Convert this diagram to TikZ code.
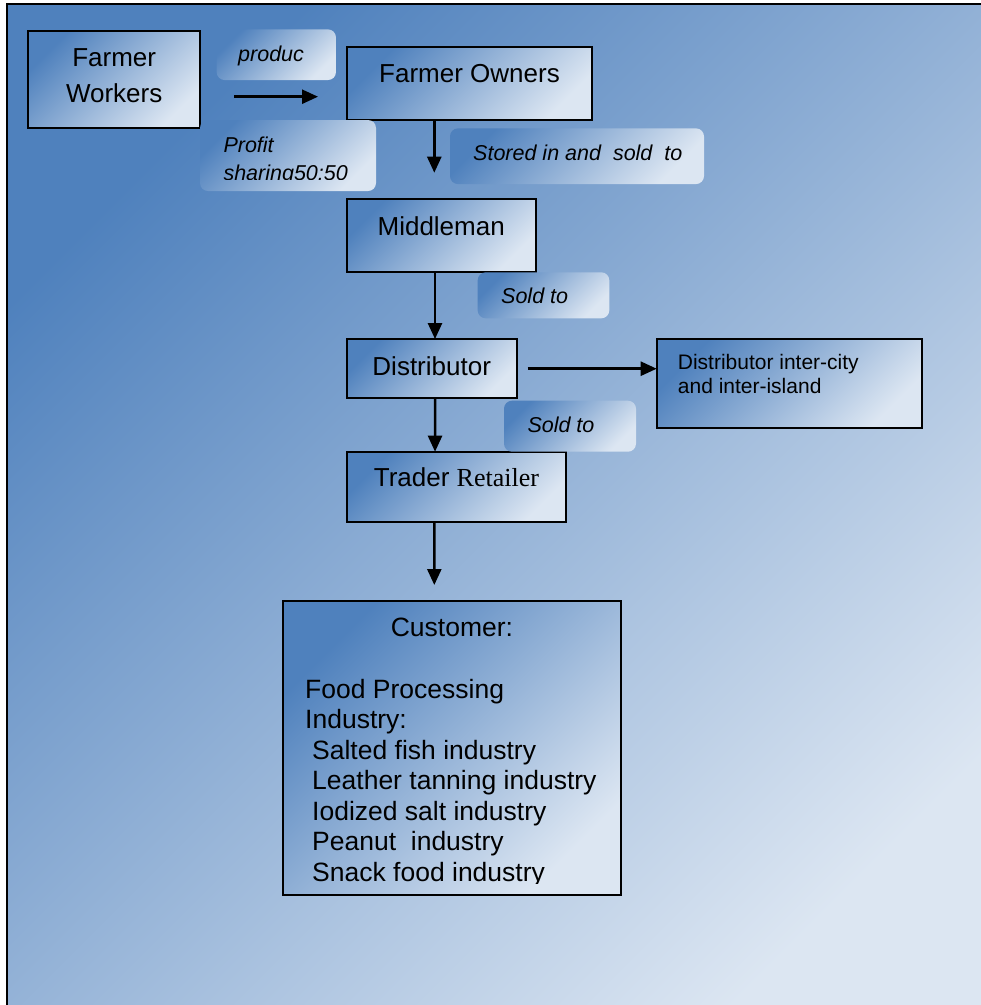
\documentclass[tikz,border=0pt]{standalone}
\usepackage{fontspec}
\setmainfont{Liberation Sans}
\newfontfamily\timesf{Liberation Serif}
\usetikzlibrary{arrows.meta}
\definecolor{dkb}{RGB}{79,129,189}
\definecolor{ltb}{RGB}{220,230,242}
\begin{document}
\begin{tikzpicture}[x=1pt,y=-1pt,
  grad/.style={top color=dkb, bottom color=ltb, shading angle=45},
  box/.style={grad, draw=black, line width=2pt, inner sep=0pt, outer sep=0pt, rectangle},
  callout/.style={grad, rounded corners=8pt, inner sep=0pt, outer sep=0pt, rectangle},
  big/.style={font=\fontsize{26}{30}\selectfont, anchor=base, inner sep=0pt},
  small/.style={font=\fontsize{21.5}{25}\selectfont\itshape, anchor=base west, inner sep=0pt},
  plain/.style={font=\fontsize{21}{25}\selectfont, anchor=base west, inner sep=0pt},
  cust/.style={font=\fontsize{26.5}{30.5}\selectfont, anchor=base west, inner sep=0pt},
  arr/.style={line width=2.5pt, -{Triangle[length=16pt,width=14pt]}}
]
\useasboundingbox (0,0) rectangle (981,1005);
% background frame
\shade[grad] (7,4) rectangle (1010,1030);
\draw[line width=2pt] (7,4) rectangle (1010,1030);

% boxes
\node[box, minimum width=171.7pt, minimum height=97pt] (fw) at (114.2,79.5) {};
\node[box, minimum width=245.6pt, minimum height=72.7pt] (fo) at (469.5,83.7) {};
\node[box, minimum width=189pt, minimum height=72.7pt] (mm) at (441.2,235.7) {};
\node[box, minimum width=170pt, minimum height=59.3pt] (di) at (431.7,368.7) {};
\node[box, minimum width=219.3pt, minimum height=70.6pt] (tr) at (456.4,487) {};
\node[box, minimum width=265.6pt, minimum height=88.7pt] (ic) at (789.5,383.3) {};
\node[box, minimum width=337.7pt, minimum height=294pt] (cu) at (451.9,748) {};

% callouts
\node[callout, minimum width=119.3pt, minimum height=50.7pt] (c1) at (276.3,54.7) {};
\node[callout, minimum width=176pt, minimum height=71pt] (c2) at (288,155.5) {};
\node[callout, minimum width=254pt, minimum height=55.7pt] (c3) at (577,156.2) {};
\node[callout, minimum width=131.6pt, minimum height=46pt] (c4) at (543.5,295.3) {};
\node[callout, minimum width=132pt, minimum height=51pt] (c5) at (570,426.2) {};

% box texts
\node[big] (t1) at (114.2,66.7) {Farmer};
\node[big] (t2) at (114.2,102.3) {Workers};
\node[big] (t3) at (469.5,82.7) {Farmer Owners};
\node[big] (t4) at (441.2,235) {Middleman};
\node[big] (t5) at (431.7,375) {Distributor};
\node[big] (t6) at (456.4,486.7) {Trader {\timesf Retailer}};
\node[plain] (t7) at (677.7,369.3) {Distributor inter-city};
\node[plain] (t8) at (677.7,393.3) {and inter-island};

% callout texts
\node[small] (s1) at (238,61) {produc};
\node[small] (s2) at (223.3,152.7) {Profit};
\begin{scope}
\clip (200,120) rectangle (376,179.5);
\node[small] (s3) at (223.3,180.5) {sharing50:50};
\end{scope}
\node[small] (s4) at (473,160) {Stored in and\ \ sold\ \ to};
\node[small] (s5) at (501,303.3) {Sold to};
\node[small] (s6) at (527.3,432.3) {Sold to};

% customer texts
\node[big, font=\fontsize{26.5}{30.5}\selectfont] (u0) at (451.9,636.7) {Customer:};
\node[cust] (u1) at (305,698) {Food Processing};
\node[cust] (u2) at (305,728.5) {Industry:};
\node[cust] (u3) at (312,759) {Salted fish industry};
\node[cust] (u4) at (312,789.5) {Leather tanning industry};
\node[cust] (u5) at (312,820) {Iodized salt industry};
\node[cust] (u6) at (312,850.5) {Peanut\ \ industry};
\begin{scope}
\clip (283,860) rectangle (621,883.5);
\node[cust] (u7) at (312,881) {Snack food industry};
\end{scope}

% connectors
\coordinate (pa) at (234,96.7);
\coordinate (pb) at (318,96.7);
\draw[arr] (pa) -- (pb);
\coordinate (foend) at (434.3,172.7);
\draw[arr] ([xshift=87.6pt]fo.south west) -- (foend);
\draw[arr] ([xshift=88.3pt]mm.south west) -- ([xshift=88.3pt]di.north west);
\draw[arr] ([xshift=88.3pt]di.south west) -- ([xshift=88.3pt]tr.north west);
\draw[arr] ([xshift=11pt]di.east) -- (ic.west |- di.east);
\coordinate (trend) at (434.3,585);
\draw[arr] ([xshift=87.6pt]tr.south west) -- (trend);
\end{tikzpicture}
\end{document}
